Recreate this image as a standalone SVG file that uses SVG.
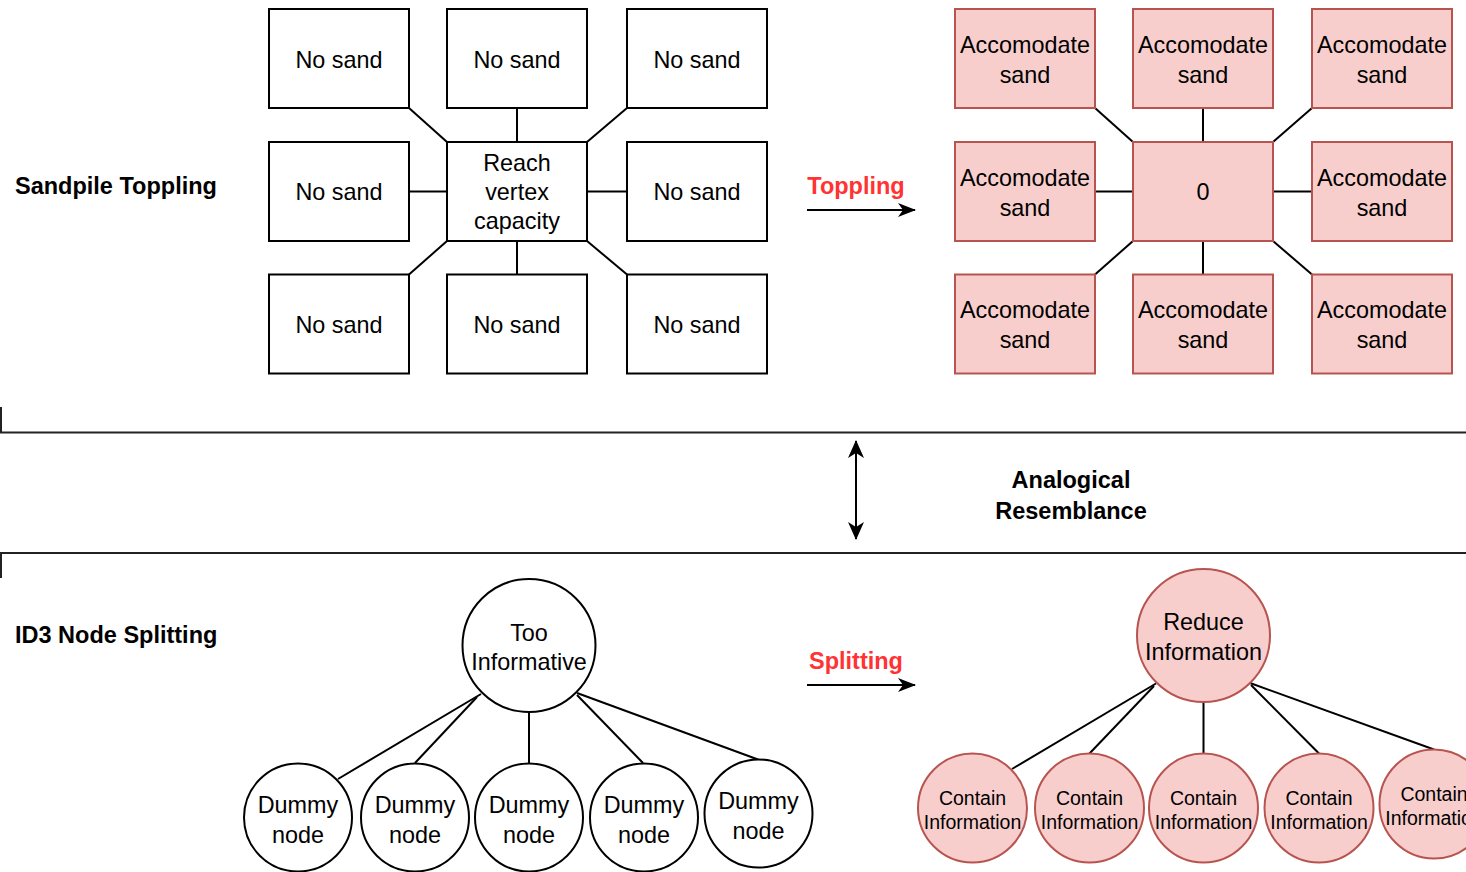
<svg xmlns="http://www.w3.org/2000/svg" width="1466" height="872" viewBox="0 0 1466 872">
<defs>
<style>
text{font-family:"Liberation Sans",Arial,Helvetica,sans-serif;fill:#000;}
.t{font-size:23.4px;text-anchor:middle;}
.s{font-size:19.5px;text-anchor:middle;}
.b{font-size:23.5px;font-weight:bold;}
.bc{font-size:23.5px;font-weight:bold;text-anchor:middle;}
.red{fill:#FF3333;}
.box{fill:#fff;stroke:#000;stroke-width:2;}
.pink{fill:#f8cecc;stroke:#b85450;stroke-width:2;}
.ln{stroke:#000;stroke-width:2;fill:none;}
.sep{stroke:#222;stroke-width:2;fill:none;}
</style>
<marker id="arr" viewBox="0 0 18 14" refX="17" refY="7" markerWidth="18" markerHeight="14" markerUnits="userSpaceOnUse" orient="auto-start-reverse">
<path d="M0,0 L18,7 L0,14 L5,7 Z" fill="#000"/>
</marker>
<marker id="arrv" viewBox="0 0 18 16" refX="17" refY="8" markerWidth="18" markerHeight="16" markerUnits="userSpaceOnUse" orient="auto-start-reverse">
<path d="M0,0 L18,8 L0,16 L5,8 Z" fill="#000"/>
</marker>
</defs>
<rect width="1466" height="872" fill="#fff"/>

<g id="separators">
<path class="sep" d="M1,407 V432.5 H1466" stroke-width="1.8"/>
<path class="sep" d="M1,578 V553 H1466" stroke-width="2.4"/>
</g>

<g id="labels">
<text class="b" x="15" y="194">Sandpile Toppling</text>
<text class="b" x="15" y="643">ID3 Node Splitting</text>
<text class="bc red" x="856" y="193.5">Toppling</text>
<text class="bc red" x="856" y="669">Splitting</text>
<text class="bc" x="1071" y="488">Analogical</text>
<text class="bc" x="1071" y="519">Resemblance</text>
</g>

<g id="connectors">
<line class="ln" x1="409" y1="108" x2="447" y2="142"/>
<line class="ln" x1="517" y1="108" x2="517" y2="142"/>
<line class="ln" x1="627" y1="108" x2="587" y2="142"/>
<line class="ln" x1="409" y1="191.5" x2="447" y2="191.5"/>
<line class="ln" x1="587" y1="191.5" x2="627" y2="191.5"/>
<line class="ln" x1="409" y1="274.5" x2="447" y2="241"/>
<line class="ln" x1="517" y1="241" x2="517" y2="274.5"/>
<line class="ln" x1="627" y1="274.5" x2="587" y2="241"/>
<line class="ln" x1="1095" y1="108" x2="1133" y2="142"/>
<line class="ln" x1="1203" y1="108" x2="1203" y2="142"/>
<line class="ln" x1="1312" y1="108" x2="1273" y2="142"/>
<line class="ln" x1="1095" y1="191.5" x2="1133" y2="191.5"/>
<line class="ln" x1="1273" y1="191.5" x2="1312" y2="191.5"/>
<line class="ln" x1="1095" y1="274.5" x2="1133" y2="241"/>
<line class="ln" x1="1203" y1="241" x2="1203" y2="274.5"/>
<line class="ln" x1="1312" y1="274.5" x2="1273" y2="241"/>
<line class="ln" x1="807" y1="210" x2="915" y2="210" marker-end="url(#arr)"/>
<line class="ln" x1="807" y1="685" x2="915" y2="685" marker-end="url(#arr)"/>
<line class="ln" x1="856" y1="441" x2="856" y2="539" marker-start="url(#arrv)" marker-end="url(#arrv)"/>
<line class="ln" x1="481" y1="694" x2="338" y2="779"/>
<line class="ln" x1="477" y1="697" x2="415" y2="763"/>
<line class="ln" x1="529" y1="712" x2="529" y2="763"/>
<line class="ln" x1="577" y1="695" x2="643" y2="763"/>
<line class="ln" x1="577" y1="693" x2="758" y2="759.5"/>
<line class="ln" x1="1156" y1="683.5" x2="1012" y2="769"/>
<line class="ln" x1="1154" y1="686" x2="1089.5" y2="753.5"/>
<line class="ln" x1="1203.5" y1="702" x2="1203.5" y2="753.5"/>
<line class="ln" x1="1251" y1="685" x2="1319" y2="753.5"/>
<line class="ln" x1="1250" y1="683" x2="1434" y2="749.5"/>
</g>

<g id="sand-left">
<g id="ns1"><rect class="box" x="269" y="9" width="140" height="99"/><text class="t" x="339" y="67.5">No sand</text></g>
<g id="ns2"><rect class="box" x="447" y="9" width="140" height="99"/><text class="t" x="517" y="67.5">No sand</text></g>
<g id="ns3"><rect class="box" x="627" y="9" width="140" height="99"/><text class="t" x="697" y="67.5">No sand</text></g>
<g id="ns4"><rect class="box" x="269" y="142" width="140" height="99"/><text class="t" x="339" y="200">No sand</text></g>
<g id="center-left"><rect class="box" x="447" y="142" width="140" height="99"/><text class="t" x="517" y="170.5">Reach</text><text class="t" x="517" y="199.5">vertex</text><text class="t" x="517" y="228.5">capacity</text></g>
<g id="ns5"><rect class="box" x="627" y="142" width="140" height="99"/><text class="t" x="697" y="200">No sand</text></g>
<g id="ns6"><rect class="box" x="269" y="274.5" width="140" height="99"/><text class="t" x="339" y="332.5">No sand</text></g>
<g id="ns7"><rect class="box" x="447" y="274.5" width="140" height="99"/><text class="t" x="517" y="332.5">No sand</text></g>
<g id="ns8"><rect class="box" x="627" y="274.5" width="140" height="99"/><text class="t" x="697" y="332.5">No sand</text></g>
</g>

<g id="sand-right">
<g id="as1"><rect class="pink" x="955" y="9" width="140" height="99"/><text class="t" x="1025" y="52.5">Accomodate</text><text class="t" x="1025" y="82.5">sand</text></g>
<g id="as2"><rect class="pink" x="1133" y="9" width="140" height="99"/><text class="t" x="1203" y="52.5">Accomodate</text><text class="t" x="1203" y="82.5">sand</text></g>
<g id="as3"><rect class="pink" x="1312" y="9" width="140" height="99"/><text class="t" x="1382" y="52.5">Accomodate</text><text class="t" x="1382" y="82.5">sand</text></g>
<g id="as4"><rect class="pink" x="955" y="142" width="140" height="99"/><text class="t" x="1025" y="185.5">Accomodate</text><text class="t" x="1025" y="215.5">sand</text></g>
<g id="center-right"><rect class="pink" x="1133" y="142" width="140" height="99"/><text class="t" x="1203" y="199.5">0</text></g>
<g id="as5"><rect class="pink" x="1312" y="142" width="140" height="99"/><text class="t" x="1382" y="185.5">Accomodate</text><text class="t" x="1382" y="215.5">sand</text></g>
<g id="as6"><rect class="pink" x="955" y="274.5" width="140" height="99"/><text class="t" x="1025" y="317.5">Accomodate</text><text class="t" x="1025" y="347.5">sand</text></g>
<g id="as7"><rect class="pink" x="1133" y="274.5" width="140" height="99"/><text class="t" x="1203" y="317.5">Accomodate</text><text class="t" x="1203" y="347.5">sand</text></g>
<g id="as8"><rect class="pink" x="1312" y="274.5" width="140" height="99"/><text class="t" x="1382" y="317.5">Accomodate</text><text class="t" x="1382" y="347.5">sand</text></g>
</g>

<g id="tree-left">
<g id="too-informative"><circle class="box" cx="529" cy="645.5" r="66.5"/><text class="t" x="529" y="640.5">Too</text><text class="t" x="529" y="670">Informative</text></g>
<g id="dn1"><circle class="box" cx="298" cy="817.5" r="54"/><text class="t" x="298" y="813">Dummy</text><text class="t" x="298" y="843">node</text></g>
<g id="dn2"><circle class="box" cx="415" cy="817.5" r="54"/><text class="t" x="415" y="813">Dummy</text><text class="t" x="415" y="843">node</text></g>
<g id="dn3"><circle class="box" cx="529" cy="817.5" r="54"/><text class="t" x="529" y="813">Dummy</text><text class="t" x="529" y="843">node</text></g>
<g id="dn4"><circle class="box" cx="644" cy="817.5" r="54"/><text class="t" x="644" y="813">Dummy</text><text class="t" x="644" y="843">node</text></g>
<g id="dn5"><circle class="box" cx="758.5" cy="813.5" r="54"/><text class="t" x="758.5" y="809">Dummy</text><text class="t" x="758.5" y="839">node</text></g>
</g>

<g id="tree-right">
<g id="reduce-information"><circle class="pink" cx="1203.5" cy="635.5" r="66.5"/><text class="t" x="1203.5" y="630">Reduce</text><text class="t" x="1203.5" y="660">Information</text></g>
<g id="ci1"><circle class="pink" cx="972.5" cy="808" r="54.5"/><text class="s" x="972.5" y="805">Contain</text><text class="s" x="972.5" y="828.5">Information</text></g>
<g id="ci2"><circle class="pink" cx="1089.5" cy="808" r="54.5"/><text class="s" x="1089.5" y="805">Contain</text><text class="s" x="1089.5" y="828.5">Information</text></g>
<g id="ci3"><circle class="pink" cx="1203.5" cy="808" r="54.5"/><text class="s" x="1203.5" y="805">Contain</text><text class="s" x="1203.5" y="828.5">Information</text></g>
<g id="ci4"><circle class="pink" cx="1319" cy="808" r="54.5"/><text class="s" x="1319" y="805">Contain</text><text class="s" x="1319" y="828.5">Information</text></g>
<g id="ci5"><circle class="pink" cx="1434" cy="804" r="54.5"/><text class="s" x="1434" y="800.5">Contain</text><text class="s" x="1434" y="824.5">Information</text></g>
</g>
</svg>
